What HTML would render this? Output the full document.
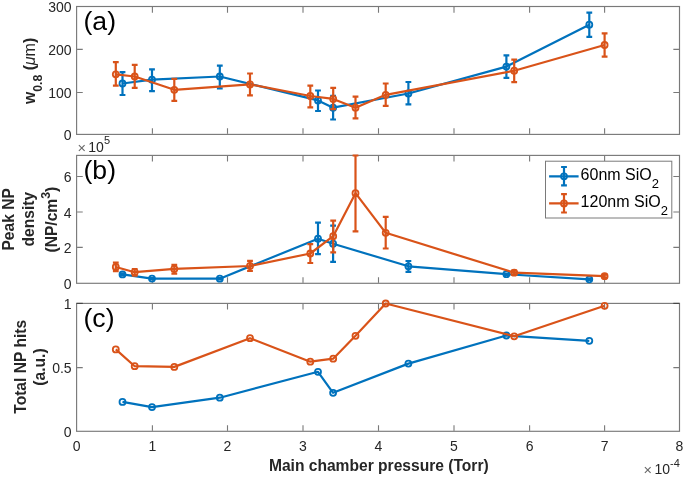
<!DOCTYPE html>
<html><head><meta charset="utf-8"><style>
html,body{margin:0;padding:0;background:#fff;}
svg{display:block;filter:blur(0.3px);font-family:"Liberation Sans",sans-serif;}
</style></head><body>
<svg width="685" height="477" viewBox="0 0 685 477">
<rect width="685" height="477" fill="#fff"/>
<g>
<path d="M152.4 133.85v-5.6M152.4 7.05v5.6M227.5 133.85v-5.6M227.5 7.05v5.6M303 133.85v-5.6M303 7.05v5.6M378.5 133.85v-5.6M378.5 7.05v5.6M454 133.85v-5.6M454 7.05v5.6M529.6 133.85v-5.6M529.6 7.05v5.6M604.6 133.85v-5.6M604.6 7.05v5.6M77.15 92.5h5.6M678.95 92.5h-5.6M77.15 49.4h5.6M678.95 49.4h-5.6" stroke="#262626" stroke-opacity="0.62" stroke-width="1.1" fill="none"/>
<rect x="76.6" y="6.5" width="602.9" height="127.9" stroke="#262626" stroke-opacity="0.62" stroke-width="1.15" fill="none"/>
<path d="M152.4 282.75v-5.6M152.4 155.95v5.6M227.5 282.75v-5.6M227.5 155.95v5.6M303 282.75v-5.6M303 155.95v5.6M378.5 282.75v-5.6M378.5 155.95v5.6M454 282.75v-5.6M454 155.95v5.6M529.6 282.75v-5.6M529.6 155.95v5.6M604.6 282.75v-5.6M604.6 155.95v5.6M77.15 247.4h5.6M678.95 247.4h-5.6M77.15 212h5.6M678.95 212h-5.6M77.15 176.5h5.6M678.95 176.5h-5.6" stroke="#262626" stroke-opacity="0.62" stroke-width="1.1" fill="none"/>
<rect x="76.6" y="155.4" width="602.9" height="127.9" stroke="#262626" stroke-opacity="0.62" stroke-width="1.15" fill="none"/>
<path d="M152.4 430.75v-5.6M152.4 303.95v5.6M227.5 430.75v-5.6M227.5 303.95v5.6M303 430.75v-5.6M303 303.95v5.6M378.5 430.75v-5.6M378.5 303.95v5.6M454 430.75v-5.6M454 303.95v5.6M529.6 430.75v-5.6M529.6 303.95v5.6M604.6 430.75v-5.6M604.6 303.95v5.6M77.15 367.6h5.6M678.95 367.6h-5.6M76.6 303.4h6.2M679.5 303.4h-6.2" stroke="#262626" stroke-opacity="0.62" stroke-width="1.1" fill="none"/>
<rect x="76.6" y="303.4" width="602.9" height="127.9" stroke="#262626" stroke-opacity="0.62" stroke-width="1.15" fill="none"/>
<path d="M122.5 83.5 L152 79.7 L219.8 76.5 L318 100.4 L333.1 107.7 L408.4 93.5 L506.4 66.6 L589.3 24.7" stroke="#0072BD" stroke-width="2.2" fill="none" stroke-linejoin="round"/>
<path d="M122.5 72.1V95M119.6 72.1h5.8M119.6 95h5.8M152 69.3V91.1M149.1 69.3h5.8M149.1 91.1h5.8M219.8 65.6V88.3M216.9 65.6h5.8M216.9 88.3h5.8M318 90.5V111M315.1 90.5h5.8M315.1 111h5.8M333.1 95.9V119.5M330.2 95.9h5.8M330.2 119.5h5.8M408.4 82V104.3M405.5 82h5.8M405.5 104.3h5.8M506.4 55.4V77.9M503.5 55.4h5.8M503.5 77.9h5.8M589.3 12.7V36.9M586.4 12.7h5.8M586.4 36.9h5.8" stroke="#0072BD" stroke-width="2.2" fill="none"/>
<circle cx="122.5" cy="83.5" r="3.0" stroke="#0072BD" stroke-width="1.8" fill="none"/>
<circle cx="152" cy="79.7" r="3.0" stroke="#0072BD" stroke-width="1.8" fill="none"/>
<circle cx="219.8" cy="76.5" r="3.0" stroke="#0072BD" stroke-width="1.8" fill="none"/>
<circle cx="318" cy="100.4" r="3.0" stroke="#0072BD" stroke-width="1.8" fill="none"/>
<circle cx="333.1" cy="107.7" r="3.0" stroke="#0072BD" stroke-width="1.8" fill="none"/>
<circle cx="408.4" cy="93.5" r="3.0" stroke="#0072BD" stroke-width="1.8" fill="none"/>
<circle cx="506.4" cy="66.6" r="3.0" stroke="#0072BD" stroke-width="1.8" fill="none"/>
<circle cx="589.3" cy="24.7" r="3.0" stroke="#0072BD" stroke-width="1.8" fill="none"/>
<path d="M115.8 74.3 L134.7 76.5 L174.3 89.8 L250 84.4 L310.3 96 L333.2 98.9 L355.5 107.7 L385.7 94.8 L514.2 70.7 L604.6 45" stroke="#D95319" stroke-width="2.2" fill="none" stroke-linejoin="round"/>
<path d="M115.8 62.2V85.7M112.9 62.2h5.8M112.9 85.7h5.8M134.7 64.8V87.9M131.8 64.8h5.8M131.8 87.9h5.8M174.3 78.9V100.8M171.4 78.9h5.8M171.4 100.8h5.8M250 73.5V95.3M247.1 73.5h5.8M247.1 95.3h5.8M310.3 85.7V107.3M307.4 85.7h5.8M307.4 107.3h5.8M333.2 87.9V109.2M330.3 87.9h5.8M330.3 109.2h5.8M355.5 96.7V118.4M352.6 96.7h5.8M352.6 118.4h5.8M385.7 83.5V105.8M382.8 83.5h5.8M382.8 105.8h5.8M514.2 59.6V82.1M511.3 59.6h5.8M511.3 82.1h5.8M604.6 33.4V56.7M601.7 33.4h5.8M601.7 56.7h5.8" stroke="#D95319" stroke-width="2.2" fill="none"/>
<circle cx="115.8" cy="74.3" r="3.0" stroke="#D95319" stroke-width="1.8" fill="none"/>
<circle cx="134.7" cy="76.5" r="3.0" stroke="#D95319" stroke-width="1.8" fill="none"/>
<circle cx="174.3" cy="89.8" r="3.0" stroke="#D95319" stroke-width="1.8" fill="none"/>
<circle cx="250" cy="84.4" r="3.0" stroke="#D95319" stroke-width="1.8" fill="none"/>
<circle cx="310.3" cy="96" r="3.0" stroke="#D95319" stroke-width="1.8" fill="none"/>
<circle cx="333.2" cy="98.9" r="3.0" stroke="#D95319" stroke-width="1.8" fill="none"/>
<circle cx="355.5" cy="107.7" r="3.0" stroke="#D95319" stroke-width="1.8" fill="none"/>
<circle cx="385.7" cy="94.8" r="3.0" stroke="#D95319" stroke-width="1.8" fill="none"/>
<circle cx="514.2" cy="70.7" r="3.0" stroke="#D95319" stroke-width="1.8" fill="none"/>
<circle cx="604.6" cy="45" r="3.0" stroke="#D95319" stroke-width="1.8" fill="none"/>
<path d="M122.5 274.4 L152 278.6 L219.8 278.7 L318 238.7 L333.1 243.7 L408.4 266.3 L506.4 274.2 L589.3 279.3" stroke="#0072BD" stroke-width="2.2" fill="none" stroke-linejoin="round"/>
<path d="M122.5 273.4V275.4M119.6 273.4h5.8M119.6 275.4h5.8M152 278V279.2M149.1 278h5.8M149.1 279.2h5.8M219.8 278.1V279.3M216.9 278.1h5.8M216.9 279.3h5.8M318 222.7V254.1M315.1 222.7h5.8M315.1 254.1h5.8M333.1 225.6V261.8M330.2 225.6h5.8M330.2 261.8h5.8M408.4 261V271.8M405.5 261h5.8M405.5 271.8h5.8M506.4 273.6V274.8M503.5 273.6h5.8M503.5 274.8h5.8M589.3 278.7V279.9M586.4 278.7h5.8M586.4 279.9h5.8" stroke="#0072BD" stroke-width="2.2" fill="none"/>
<circle cx="122.5" cy="274.4" r="3.0" stroke="#0072BD" stroke-width="1.8" fill="none"/>
<circle cx="152" cy="278.6" r="3.0" stroke="#0072BD" stroke-width="1.8" fill="none"/>
<circle cx="219.8" cy="278.7" r="3.0" stroke="#0072BD" stroke-width="1.8" fill="none"/>
<circle cx="318" cy="238.7" r="3.0" stroke="#0072BD" stroke-width="1.8" fill="none"/>
<circle cx="333.1" cy="243.7" r="3.0" stroke="#0072BD" stroke-width="1.8" fill="none"/>
<circle cx="408.4" cy="266.3" r="3.0" stroke="#0072BD" stroke-width="1.8" fill="none"/>
<circle cx="506.4" cy="274.2" r="3.0" stroke="#0072BD" stroke-width="1.8" fill="none"/>
<circle cx="589.3" cy="279.3" r="3.0" stroke="#0072BD" stroke-width="1.8" fill="none"/>
<path d="M115.8 267 L134.7 272.2 L174.3 268.9 L250 266 L310.3 253.5 L333.2 236.2 L355.5 193.2 L385.7 232.8 L514.2 272.7 L604.6 276.2" stroke="#D95319" stroke-width="2.2" fill="none" stroke-linejoin="round"/>
<path d="M115.8 262.6V271.2M112.9 262.6h5.8M112.9 271.2h5.8M134.7 269V275.6M131.8 269h5.8M131.8 275.6h5.8M174.3 264.8V273.6M171.4 264.8h5.8M171.4 273.6h5.8M250 260.9V271M247.1 260.9h5.8M247.1 271h5.8M310.3 244.1V263M307.4 244.1h5.8M307.4 263h5.8M333.2 220.6V252.4M330.3 220.6h5.8M330.3 252.4h5.8M355.5 155.5V231.4M352.6 155.5h5.8M352.6 231.4h5.8M385.7 216.9V248.5M382.8 216.9h5.8M382.8 248.5h5.8M514.2 270.7V274.7M511.3 270.7h5.8M511.3 274.7h5.8M604.6 274.7V277.7M601.7 274.7h5.8M601.7 277.7h5.8" stroke="#D95319" stroke-width="2.2" fill="none"/>
<circle cx="115.8" cy="267" r="3.0" stroke="#D95319" stroke-width="1.8" fill="none"/>
<circle cx="134.7" cy="272.2" r="3.0" stroke="#D95319" stroke-width="1.8" fill="none"/>
<circle cx="174.3" cy="268.9" r="3.0" stroke="#D95319" stroke-width="1.8" fill="none"/>
<circle cx="250" cy="266" r="3.0" stroke="#D95319" stroke-width="1.8" fill="none"/>
<circle cx="310.3" cy="253.5" r="3.0" stroke="#D95319" stroke-width="1.8" fill="none"/>
<circle cx="333.2" cy="236.2" r="3.0" stroke="#D95319" stroke-width="1.8" fill="none"/>
<circle cx="355.5" cy="193.2" r="3.0" stroke="#D95319" stroke-width="1.8" fill="none"/>
<circle cx="385.7" cy="232.8" r="3.0" stroke="#D95319" stroke-width="1.8" fill="none"/>
<circle cx="514.2" cy="272.7" r="3.0" stroke="#D95319" stroke-width="1.8" fill="none"/>
<circle cx="604.6" cy="276.2" r="3.0" stroke="#D95319" stroke-width="1.8" fill="none"/>
<path d="M122.5 401.9 L152 407.1 L219.8 397.7 L318 371.8 L333.1 392.8 L408.4 363.6 L506.4 335.5 L589.3 340.8" stroke="#0072BD" stroke-width="2.2" fill="none" stroke-linejoin="round"/>
<circle cx="122.5" cy="401.9" r="3.0" stroke="#0072BD" stroke-width="1.8" fill="none"/>
<circle cx="152" cy="407.1" r="3.0" stroke="#0072BD" stroke-width="1.8" fill="none"/>
<circle cx="219.8" cy="397.7" r="3.0" stroke="#0072BD" stroke-width="1.8" fill="none"/>
<circle cx="318" cy="371.8" r="3.0" stroke="#0072BD" stroke-width="1.8" fill="none"/>
<circle cx="333.1" cy="392.8" r="3.0" stroke="#0072BD" stroke-width="1.8" fill="none"/>
<circle cx="408.4" cy="363.6" r="3.0" stroke="#0072BD" stroke-width="1.8" fill="none"/>
<circle cx="506.4" cy="335.5" r="3.0" stroke="#0072BD" stroke-width="1.8" fill="none"/>
<circle cx="589.3" cy="340.8" r="3.0" stroke="#0072BD" stroke-width="1.8" fill="none"/>
<path d="M115.8 349.4 L134.7 366.2 L174.3 366.9 L250 338.2 L310.3 361.7 L333.2 358.7 L355.5 335.8 L385.7 303.5 L514.2 336.3 L604.6 305.8" stroke="#D95319" stroke-width="2.2" fill="none" stroke-linejoin="round"/>
<circle cx="115.8" cy="349.4" r="3.0" stroke="#D95319" stroke-width="1.8" fill="none"/>
<circle cx="134.7" cy="366.2" r="3.0" stroke="#D95319" stroke-width="1.8" fill="none"/>
<circle cx="174.3" cy="366.9" r="3.0" stroke="#D95319" stroke-width="1.8" fill="none"/>
<circle cx="250" cy="338.2" r="3.0" stroke="#D95319" stroke-width="1.8" fill="none"/>
<circle cx="310.3" cy="361.7" r="3.0" stroke="#D95319" stroke-width="1.8" fill="none"/>
<circle cx="333.2" cy="358.7" r="3.0" stroke="#D95319" stroke-width="1.8" fill="none"/>
<circle cx="355.5" cy="335.8" r="3.0" stroke="#D95319" stroke-width="1.8" fill="none"/>
<circle cx="385.7" cy="303.5" r="3.0" stroke="#D95319" stroke-width="1.8" fill="none"/>
<circle cx="514.2" cy="336.3" r="3.0" stroke="#D95319" stroke-width="1.8" fill="none"/>
<circle cx="604.6" cy="305.8" r="3.0" stroke="#D95319" stroke-width="1.8" fill="none"/>
</g>
<g font-size="14" fill="#262626"><text x="71.6" y="140" text-anchor="end">0</text><text x="71.6" y="98.1" text-anchor="end">100</text><text x="71.6" y="55" text-anchor="end">200</text><text x="71.6" y="12.1" text-anchor="end">300</text><text x="71.6" y="288.9" text-anchor="end">0</text><text x="71.6" y="253" text-anchor="end">2</text><text x="71.6" y="217.6" text-anchor="end">4</text><text x="71.6" y="182.1" text-anchor="end">6</text><text x="71.6" y="436.9" text-anchor="end">0</text><text x="71.6" y="373.2" text-anchor="end">0.5</text><text x="71.6" y="309" text-anchor="end">1</text><text x="76.6" y="451.2" text-anchor="middle">0</text><text x="152.4" y="451.2" text-anchor="middle">1</text><text x="227.5" y="451.2" text-anchor="middle">2</text><text x="303" y="451.2" text-anchor="middle">3</text><text x="378.5" y="451.2" text-anchor="middle">4</text><text x="454" y="451.2" text-anchor="middle">5</text><text x="529.6" y="451.2" text-anchor="middle">6</text><text x="604.6" y="451.2" text-anchor="middle">7</text><text x="679.5" y="451.2" text-anchor="middle">8</text></g>
<g fill="#262626" font-size="14"><text x="77.6" y="152.6" fill="#666" font-size="14.5">×</text><text x="88.3" y="151.6">10<tspan font-size="11" dy="-7.2">5</tspan></text><text x="643.5" y="475.2" fill="#666" font-size="14.5">×</text><text x="654.5" y="474.2">10<tspan font-size="11" dy="-7.4">-4</tspan></text></g>
<g font-size="26.6" fill="#000"><text x="83.5" y="29.6">(a)</text><text x="83.5" y="179.4">(b)</text><text x="83.5" y="326.9">(c)</text></g>
<g font-size="15.6" font-weight="bold" fill="#262626"><text x="378.8" y="471.4" text-anchor="middle">Main chamber pressure (Torr)</text><text transform="translate(34.9,70.9) rotate(-90)" text-anchor="middle">w<tspan font-size="12.3" dy="6.6">0.8</tspan><tspan dy="-6.6"> (</tspan><tspan font-weight="normal" font-size="16"><tspan font-style="italic">μ</tspan>m</tspan>)</text><text transform="translate(14.0,219.4) rotate(-90)" text-anchor="middle">Peak NP</text><text transform="translate(33.6,219.2) rotate(-90)" text-anchor="middle">density</text><text transform="translate(57.0,219.6) rotate(-90)" text-anchor="middle">(NP/cm<tspan font-size="12.3" dy="-6.9">3</tspan><tspan dy="6.9">)</tspan></text><text transform="translate(25.8,366.8) rotate(-90)" text-anchor="middle">Total NP hits</text><text transform="translate(44.9,367) rotate(-90)" text-anchor="middle">(a.u.)</text></g>
<g><rect x="545.5" y="161.2" width="126.3" height="56.8" fill="#fff" stroke="#7a7a7a" stroke-width="1"/><path d="M549.1 176.3H578.6M564 167V185.4M561.1 167h5.8M561.1 185.4h5.8" stroke="#0072BD" stroke-width="2.2" fill="none"/><circle cx="564" cy="176.3" r="3.0" stroke="#0072BD" stroke-width="1.8" fill="none"/><text x="580.6" y="179.7" font-size="16" fill="#000">60nm SiO<tspan font-size="13" dy="8">2</tspan></text><path d="M549.1 203.4H578.6M564 194.1V212.5M561.1 194.1h5.8M561.1 212.5h5.8" stroke="#D95319" stroke-width="2.2" fill="none"/><circle cx="564" cy="203.4" r="3.0" stroke="#D95319" stroke-width="1.8" fill="none"/><text x="580.6" y="206.8" font-size="16" fill="#000">120nm SiO<tspan font-size="13" dy="8">2</tspan></text></g>
</svg>
</body></html>
